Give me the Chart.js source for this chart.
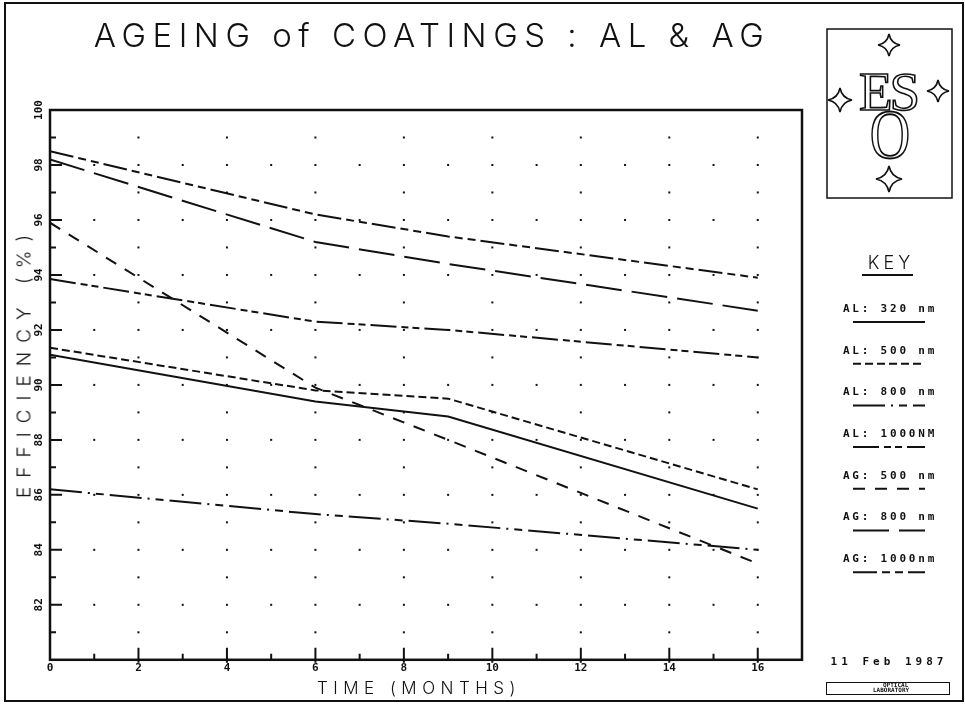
<!DOCTYPE html>
<html>
<head>
<meta charset="utf-8">
<script src="https://cdn.jsdelivr.net/npm/chart.js@4"></script>
<style>
  body { margin: 0; background: #fff; }
  #wrap { position: relative; width: 965px; height: 704px; overflow: hidden; }
  #page { position: absolute; left: 4px; top: 2px; width: 956px; height: 696px; border: 2px solid #111; }
  #myChart { position: absolute; left: 0; top: 0; }
  .txt { position: absolute; color: #111; white-space: nowrap; font-family: Inter, "DejaVu Sans", sans-serif; font-weight: 300; }
  #title { left: 4px; width: 856px; top: 15px; text-align: center; font-size: 33px; letter-spacing: 6.5px; }
  #ylab { left: 24px; top: 362px; font-size: 19px; letter-spacing: 9px; transform: translate(-50%, -50%) rotate(-90deg); }
  #xlab { left: 419px; top: 688px; font-size: 17px; letter-spacing: 5.5px; transform: translate(-50%, -50%); }
  #date { left: 889px; top: 661px; transform: translate(-50%, -50%); font-family: "DejaVu Sans Mono", monospace; font-weight: bold; font-size: 11px; letter-spacing: 4px; }
  #lab { position: absolute; left: 826px; top: 682px; width: 122px; height: 11px; border: 1.5px solid #111; }
  #lab span { position: absolute; font-family: "DejaVu Sans Mono", monospace; font-weight: bold; font-size: 6px; line-height: 6px; color: #111; }
  #eso { position: absolute; left: 826px; top: 28px; }
</style>
</head>
<body>
<div id="wrap">
  <div id="page"></div>
  <canvas id="myChart" width="965" height="704"></canvas>
  <div class="txt" id="title">AGEING of COATINGS : AL &amp; AG</div>
  <div class="txt" id="ylab">EFFICIENCY (%)</div>
  <div class="txt" id="xlab">TIME (MONTHS)</div>
  <div class="txt" id="date">11 Feb 1987</div>
  <div id="lab"><span style="left:56px;top:-1px">OPTICAL</span><span style="left:46px;top:4px">LABORATORY</span></div>
  <svg id="eso" width="128" height="172" viewBox="0 0 128 172">
    <rect x="1" y="1" width="125" height="169" fill="none" stroke="#111" stroke-width="1.5"/>
    <g id="stars" fill="#fff" stroke="#111" stroke-width="1.6"></g>
    <text x="62" y="82" text-anchor="middle" font-family="Liberation Serif, DejaVu Serif, serif" font-size="55" letter-spacing="-3" fill="#fff" stroke="#111" stroke-width="1.6">ES</text>
    <text transform="translate(64,130) scale(0.8,1)" x="0" y="0" text-anchor="middle" font-family="Liberation Serif, DejaVu Serif, serif" font-size="70" fill="#fff" stroke="#111" stroke-width="1.8">O</text>
  </svg>
</div>
<script>
// time axis (months) at which the coatings were measured
const months = [0, 6, 9, 16];

// reflectivity in %
const al320 = [91.1, 89.4, 88.85, 85.5];
const al500 = [91.35, 89.8, 89.5, 86.2];
const al800 = [86.2, 85.3, 84.95, 84.0];
const al1000 = [93.85, 92.3, 92.0, 91.0];
const ag500 = [95.9, 89.9, 88.0, 83.5];
const ag800 = [98.2, 95.2, 94.4, 92.7];
const ag1000 = [98.5, 96.2, 95.4, 93.9];

const keyLabels = ["AL: 320 nm", "AL: 500 nm", "AL: 800 nm", "AL: 1000NM", "AG: 500 nm", "AG: 800 nm", "AG: 1000nm"];
const xTicks = [0, 2, 4, 6, 8, 10, 12, 14, 16];
const yTicks = [82, 84, 86, 88, 90, 92, 94, 96, 98, 100];

const ink = "#111";
const tickFont = 'bold 11px "DejaVu Sans Mono", monospace';

// four pointed stars of the logo
const starSpots = [[63, 17, 11], [14, 72, 12], [112, 63, 11], [63, 151, 13]];
let starSvg = "";
starSpots.forEach(([cx, cy, r]) => {
  const k = r * 0.16;
  starSvg += `<path d="M${cx},${cy - r} Q${cx + k},${cy - k} ${cx + r},${cy} Q${cx + k},${cy + k} ${cx},${cy + r} Q${cx - k},${cy + k} ${cx - r},${cy} Q${cx - k},${cy - k} ${cx},${cy - r}Z"/>`;
});
document.getElementById("stars").innerHTML = starSvg;

function series(label, values, dash) {
  return {
    label: label,
    data: months.map((m, i) => ({ x: m, y: values[i] })),
    borderColor: ink,
    borderWidth: 2,
    borderDash: dash,
    pointRadius: 0,
    tension: 0,
    fill: false,
  };
}

const plotter = {
  id: "plotter",
  beforeDatasetsDraw(chart) {
    const { ctx, chartArea: a, scales: { x, y } } = chart;
    ctx.save();
    ctx.fillStyle = ink;
    ctx.strokeStyle = ink;
    // dot grid
    for (let v = 81; v <= 99; v++) {
      for (let m = 1; m <= 16; m++) {
        if (v % 2 === 0 || m % 2 === 0) {
          ctx.fillRect(x.getPixelForValue(m) - 1, y.getPixelForValue(v) - 1, 2, 2);
        }
      }
    }
    // frame
    ctx.lineWidth = 2.5;
    ctx.strokeRect(a.left, a.top, a.right - a.left, a.bottom - a.top);
    // ticks
    ctx.lineWidth = 2;
    ctx.beginPath();
    for (let m = 1; m <= 16; m++) {
      const px = x.getPixelForValue(m);
      const len = m % 2 === 0 ? 12 : 6;
      ctx.moveTo(px, a.bottom + (m % 2 === 0 ? 3 : 0));
      ctx.lineTo(px, a.bottom - len);
    }
    for (let v = 81; v <= 99; v++) {
      const py = y.getPixelForValue(v);
      const len = v % 2 === 0 ? 12 : 6;
      ctx.moveTo(a.left, py);
      ctx.lineTo(a.left + len, py);
    }
    ctx.stroke();
    // rotated y labels
    ctx.font = tickFont;
    ctx.textAlign = "center";
    ctx.textBaseline = "middle";
    yTicks.forEach((v) => {
      ctx.save();
      ctx.translate(a.left - 11, y.getPixelForValue(v));
      ctx.rotate(-Math.PI / 2);
      ctx.fillText(String(v), 0, 0);
      ctx.restore();
    });
    ctx.restore();
  },
  afterDraw(chart) {
    const ctx = chart.ctx;
    ctx.save();
    ctx.fillStyle = ink;
    ctx.strokeStyle = ink;
    ctx.textAlign = "center";
    ctx.textBaseline = "middle";
    // key heading
    ctx.font = '300 18px Inter, "DejaVu Sans", sans-serif';
    ctx.letterSpacing = "4px";
    ctx.fillText("KEY", 891, 264);
    ctx.lineWidth = 2;
    ctx.beginPath();
    ctx.moveTo(862, 275);
    ctx.lineTo(913, 275);
    ctx.stroke();
    // key entries
    ctx.font = tickFont;
    ctx.letterSpacing = "2.8px";
    chart.data.datasets.forEach((ds, i) => {
      const ty = 309 + i * 41.7;
      ctx.fillText(ds.label, 890, ty);
      ctx.save();
      ctx.lineWidth = 2;
      ctx.setLineDash(ds.borderDash || []);
      ctx.beginPath();
      ctx.moveTo(853, ty + 13);
      ctx.lineTo(925, ty + 13);
      ctx.stroke();
      ctx.restore();
    });
    ctx.restore();
  },
};

const ctx = document.getElementById("myChart").getContext("2d");

const myChart = new Chart(ctx, {
  type: "line",
  data: {
    datasets: [
      series(keyLabels[0], al320, []),
      series(keyLabels[1], al500, [8, 4]),
      series(keyLabels[2], al800, [32, 6, 2, 6, 8, 6]),
      series(keyLabels[3], al1000, [26, 5, 7, 4, 7, 5]),
      series(keyLabels[4], ag500, [12, 10]),
      series(keyLabels[5], ag800, [36, 10]),
      series(keyLabels[6], ag1000, [24, 5, 8, 5, 8, 5]),
    ],
  },
  options: {
    responsive: false,
    animation: false,
    layout: { padding: { left: 50, top: 110, right: 163, bottom: 27 } },
    plugins: {
      legend: { display: false },
      tooltip: { enabled: false },
      title: { display: false },
    },
    scales: {
      x: {
        type: "linear",
        min: 0,
        max: 17,
        grid: { display: false, drawTicks: false },
        border: { display: false },
        ticks: {
          stepSize: 2,
          autoSkip: false,
          maxRotation: 0,
          padding: 2,
          color: ink,
          font: { family: '"DejaVu Sans Mono", monospace', size: 11, weight: "bold" },
          callback: (v) => (xTicks.includes(v) ? String(v) : ""),
        },
      },
      y: {
        type: "linear",
        min: 80,
        max: 100,
        display: false,
      },
    },
  },
  plugins: [plotter],
});
</script>
</body>
</html>
